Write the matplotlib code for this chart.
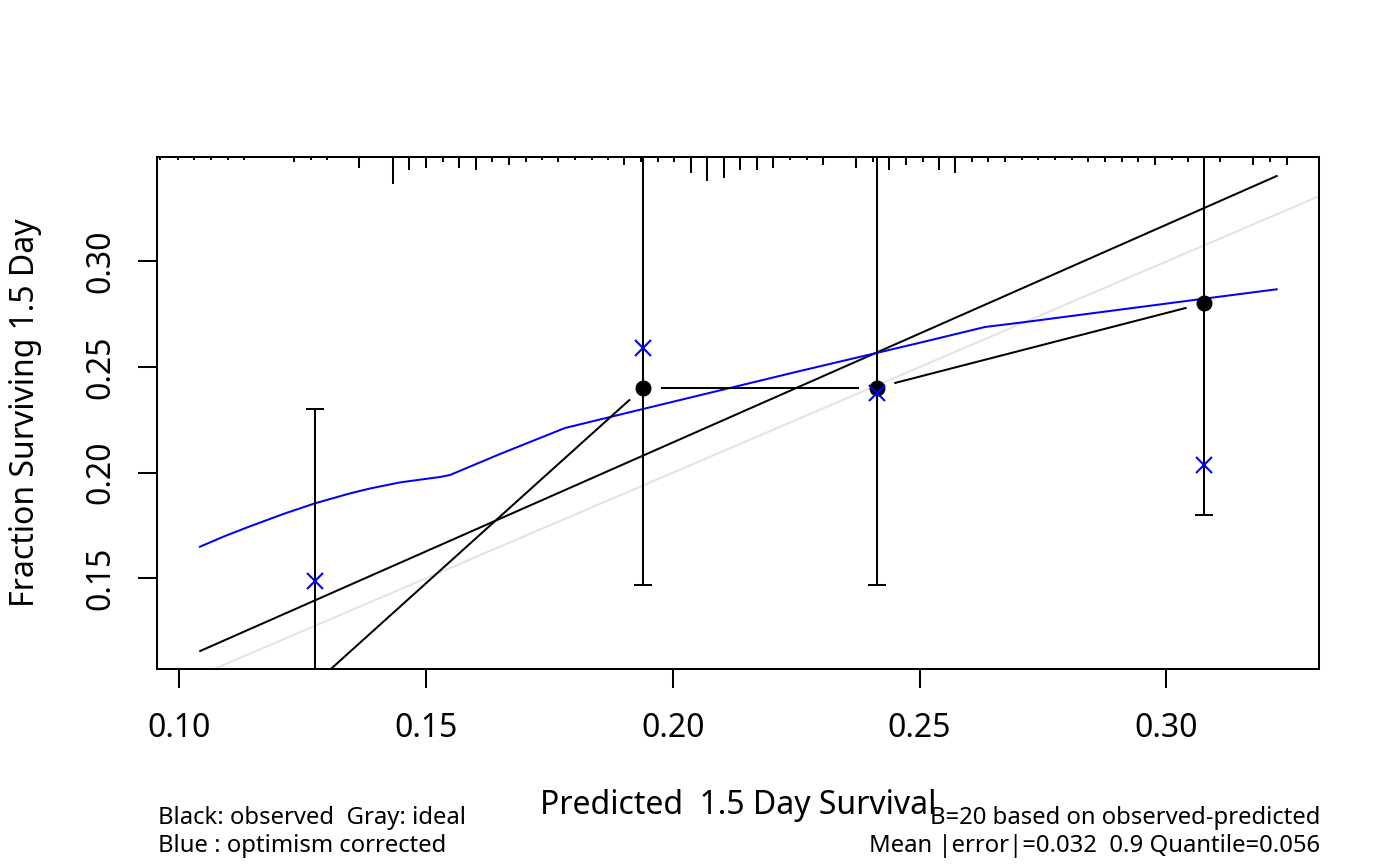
import numpy as np
import matplotlib
matplotlib.use("Agg")
import matplotlib.pyplot as plt

plt.rcParams['font.family'] = ['Noto Sans', 'DejaVu Sans']

# ---- data ----
# observed (Kaplan-Meier) groups
pred_mean = [0.1275, 0.1940, 0.2414, 0.3076]
observed = [0.1003, 0.2403, 0.2403, 0.2802]
obs_lower = [0.0500, 0.1468, 0.1468, 0.1800]
obs_upper = [0.2300, 0.4000, 0.4000, 0.4000]
corrected = [0.1487, 0.2589, 0.2376, 0.2036]

# optimism corrected smooth curve (blue)
blue_x = [0.10419, 0.10926, 0.11433, 0.12142, 0.12750, 0.13459, 0.13864, 0.14472,
          0.15282, 0.15485, 0.16498, 0.17815, 0.19396, 0.22577, 0.25009, 0.26326,
          0.27096, 0.30764, 0.32237]
blue_y = [0.16496, 0.17003, 0.17462, 0.18073, 0.18551, 0.19020, 0.19252, 0.19541,
          0.19796, 0.19891, 0.20885, 0.22116, 0.23016, 0.24815, 0.26155, 0.26899,
          0.27121, 0.28239, 0.28684]

# apparent straight line (black)
app_x = [0.10424, 0.32237]
app_y = [0.11558, 0.34048]

# distribution of predicted values (rug at top): positions and counts
rug_x = [0.09609, 0.09980, 0.10304, 0.10642, 0.10981, 0.11317, 0.12324, 0.12663,
         0.12987, 0.13647, 0.14324, 0.14661, 0.14999, 0.15337, 0.15668, 0.16006,
         0.16342, 0.16681, 0.17019, 0.17356, 0.17680, 0.18018, 0.18357, 0.18693,
         0.19017, 0.19356, 0.19694, 0.20030, 0.20363, 0.20699, 0.21038, 0.21362,
         0.21700, 0.22036, 0.22375, 0.22713, 0.23050, 0.23712, 0.24051, 0.24387,
         0.24725, 0.25064, 0.25400, 0.25718, 0.26057, 0.26393, 0.26732, 0.27070,
         0.27406, 0.27745, 0.28083, 0.28419, 0.28758, 0.29096, 0.29433, 0.29771,
         0.30110, 0.30446, 0.30770, 0.31088, 0.31763, 0.32101, 0.32440]
rug_n = [1, 1, 1, 1, 1, 1, 2, 1,
         1, 4, 10, 5, 4, 2, 4, 5,
         2, 3, 2, 1, 2, 1, 1, 1,
         3, 2, 2, 2, 6, 9, 8, 5,
         5, 4, 1, 1, 3, 4, 2, 5,
         3, 2, 5, 6, 2, 2, 2, 1,
         1, 1, 1, 2, 2, 2, 2, 3,
         1, 2, 2, 2, 3, 2, 3]

xticks = [0.10, 0.15, 0.20, 0.25, 0.30]
yticks = [0.15, 0.20, 0.25, 0.30]
xlim = (0.09548, 0.33100)
ylim = (0.10691, 0.34962)

# ---- figure ----
W, H = 1400, 866
fig = plt.figure(figsize=(W / 100, H / 100), dpi=100)
ax = fig.add_axes([157 / W, 1 - 669.3 / H, (1319.3 - 157) / W, (669.3 - 156.7) / H])
ax.set_xlim(*xlim)
ax.set_ylim(*ylim)

lw = 1.45
# ideal line
ax.plot(xlim, xlim, color='#e3e3e3', lw=lw, zorder=1)
# apparent line
ax.plot(app_x, app_y, color='black', lw=lw, zorder=2)
# blue corrected curve
ax.plot(blue_x, blue_y, color='#0000ff', lw=lw, zorder=3)

# error bars
yerr = [np.array(observed) - np.array(obs_lower), np.array(obs_upper) - np.array(observed)]
ax.errorbar(pred_mean, observed, yerr=yerr, fmt='none', ecolor='black',
            elinewidth=lw, capsize=6.5, capthick=lw, zorder=4)

# observed points joined by lines with gaps (R type="b")
ax.plot(pred_mean, observed, 'o', color='black', ms=10.5, zorder=5)
pts = ax.transData.transform(np.column_stack([pred_mean, observed]))
gap = 18.7
inv = ax.transData.inverted()
for i in range(len(pts) - 1):
    p0, p1 = pts[i], pts[i + 1]
    d = p1 - p0
    L = np.hypot(*d)
    u = d / L
    a = inv.transform(p0 + u * gap)
    b = inv.transform(p1 - u * gap)
    ax.plot([a[0], b[0]], [a[1], b[1]], color='black', lw=lw, zorder=4)

# corrected points
ax.plot(pred_mean, corrected, 'x', color='#0000ff', ms=11.5, mew=1.5, zorder=6)

# rug of predicted values at top
per = 2.65 / (669.3 - 156.7)
ax.vlines(rug_x, 1.0, 1.0 - np.array(rug_n) * per - 0.0008,
          transform=ax.get_xaxis_transform(), color='black', lw=1.45, zorder=7)

# axes style
for s in ax.spines.values():
    s.set_linewidth(1.45)
ax.set_xticks(xticks)
ax.set_xticklabels([f"{v:.2f}" for v in xticks])
ax.set_yticks(yticks)
ax.set_yticklabels([f"{v:.2f}" for v in yticks], rotation=90, va='center')
ax.tick_params(axis='both', length=13.7, width=1.45, labelsize=23, direction='out')
ax.tick_params(axis='x', pad=17)
ax.tick_params(axis='y', pad=14.5)

ax.set_xlabel("Predicted  1.5 Day Survival", fontsize=23)
ax.xaxis.set_label_coords(0.5, (669.3 - 806) / (669.3 - 156.7))
ax.xaxis.label.set_va('center')
ax.set_ylabel("Fraction Surviving 1.5 Day", fontsize=23)
ax.yaxis.set_label_coords((26 - 157) / (1319.3 - 157), 0.5)
ax.yaxis.label.set_va('center')

fs = 17.2
fig.text(158 / W, 1 - 818 / H, "Black: observed  Gray: ideal", fontsize=fs, ha='left', va='center')
fig.text(158 / W, 1 - 846 / H, "Blue : optimism corrected", fontsize=fs, ha='left', va='center')
fig.text(1320 / W, 1 - 818 / H, "B=20 based on observed-predicted", fontsize=fs, ha='right', va='center')
fig.text(1320 / W, 1 - 846 / H, "Mean |error|=0.032  0.9 Quantile=0.056", fontsize=fs, ha='right', va='center')

fig.savefig("out.png", dpi=100)
